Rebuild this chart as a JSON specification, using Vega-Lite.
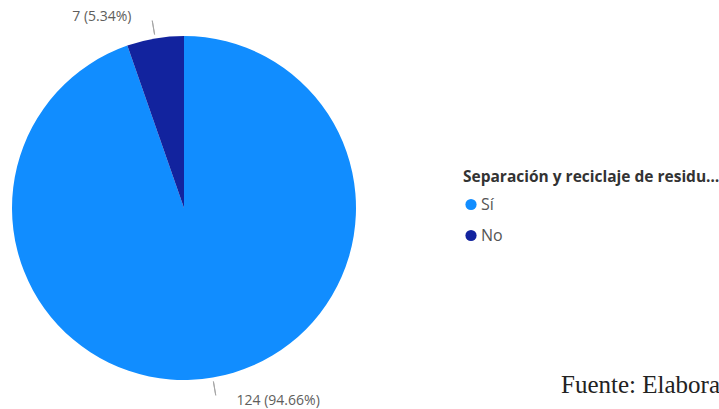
{
  "$schema": "https://vega.github.io/schema/vega-lite/v6.json",
  "autosize": {"type": "none"},
  "padding": {"left": 0, "top": 6, "right": 351, "bottom": 0},
  "width": 368,
  "height": 404,
  "background": "white",
  "config": {"view": {"stroke": null}},
  "title": {
    "text": "Fuente: Elaboración propia",
    "orient": "top",
    "anchor": "start",
    "frame": "group",
    "dx": 561,
    "dy": 416,
    "font": "Liberation Serif",
    "fontSize": 25,
    "fontWeight": "normal",
    "color": "#222222",
    "baseline": "alphabetic"
  },
  "data": {
    "values": [
      {"respuesta": "Sí", "cantidad": 124, "etiqueta": "124 (94.66%)", "orden": 1},
      {"respuesta": "No", "cantidad": 7, "etiqueta": "7 (5.34%)", "orden": 2}
    ]
  },
  "transform": [
    {"window": [{"op": "sum", "field": "cantidad", "as": "acum"}], "sort": [{"field": "orden"}]},
    {"calculate": "datum.acum - datum.cantidad / 2", "as": "medio"}
  ],
  "layer": [
    {
      "mark": {"type": "arc", "outerRadius": 172},
      "encoding": {
        "theta": {"field": "cantidad", "type": "quantitative", "stack": true, "scale": {"domain": [0, 131]}},
        "order": {"field": "orden"},
        "color": {
          "field": "respuesta",
          "type": "nominal",
          "scale": {"domain": ["Sí", "No"], "range": ["#118DFF", "#12239E"]},
          "legend": {
            "title": "Separación y reciclaje de residu…",
            "orient": "none",
            "legendX": 463,
            "legendY": 164,
            "titleFont": "Open Sans",
            "titleFontSize": 15.5,
            "titleFontWeight": "bold",
            "titleColor": "#333333",
            "titleLimit": 400,
            "titlePadding": 11,
            "labelFont": "Open Sans",
            "labelFontSize": 16,
            "labelColor": "#555555",
            "labelOffset": 2,
            "symbolType": "circle",
            "symbolSize": 125,
            "symbolStrokeWidth": 0,
            "rowPadding": 15
          }
        }
      }
    },
    {
      "mark": {"type": "arc", "radius": 176, "radius2": 190, "stroke": "#A6A6A6", "strokeWidth": 1, "fillOpacity": 0},
      "encoding": {
        "theta": {"field": "medio", "type": "quantitative", "stack": null, "scale": {"domain": [0, 131]}},
        "theta2": {"field": "medio"}
      }
    },
    {
      "transform": [{"filter": "datum.respuesta === 'No'"}],
      "mark": {"type": "text", "radius": 195, "align": "right", "baseline": "middle", "dx": -20, "dy": 1, "font": "Open Sans", "fontSize": 14, "color": "#605E5C"},
      "encoding": {
        "theta": {"field": "medio", "type": "quantitative", "stack": null, "scale": {"domain": [0, 131]}},
        "text": {"field": "etiqueta"}
      }
    },
    {
      "transform": [{"filter": "datum.respuesta === 'Sí'"}],
      "mark": {"type": "text", "radius": 195, "align": "left", "baseline": "middle", "dx": 20, "dy": 1, "font": "Open Sans", "fontSize": 14, "color": "#605E5C"},
      "encoding": {
        "theta": {"field": "medio", "type": "quantitative", "stack": null, "scale": {"domain": [0, 131]}},
        "text": {"field": "etiqueta"}
      }
    }
  ]
}
